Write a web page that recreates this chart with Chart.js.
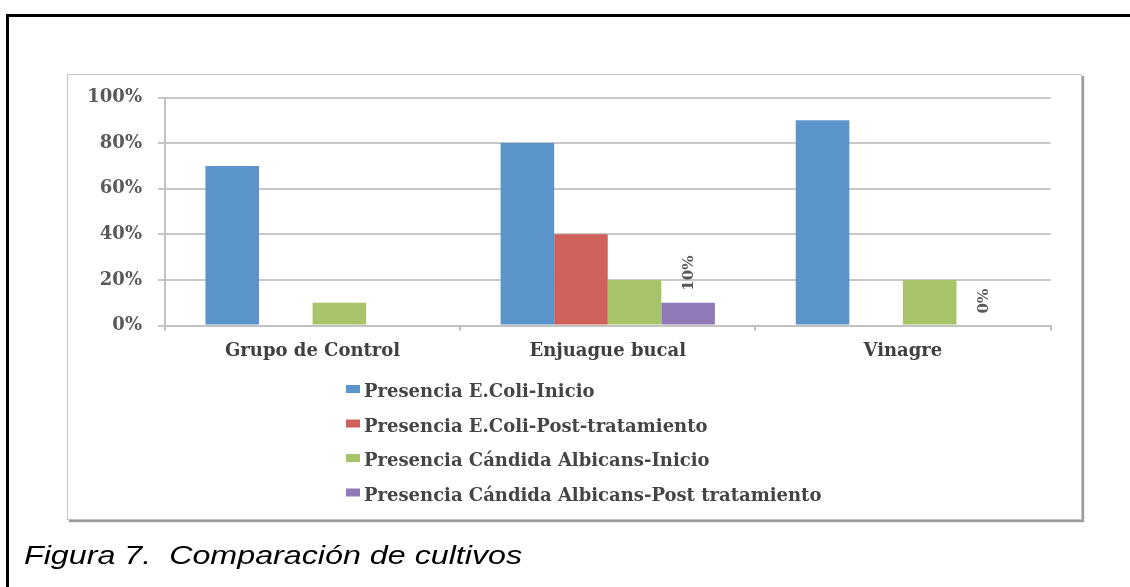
<!DOCTYPE html>
<html>
<head>
<meta charset="utf-8">
<script src="https://cdn.jsdelivr.net/npm/chart.js@4.4.1/dist/chart.umd.min.js"></script>
<style>
  html, body { margin: 0; padding: 0; background: #fff; }
  body { width: 1130px; height: 587px; position: relative; overflow: hidden; }
  #frame { position: absolute; left: 6px; top: 14px; width: 1300px; height: 800px;
           border-left: 3px solid #000; border-top: 3px solid #000; }
  #box { position: absolute; left: 67px; top: 74px; width: 1013px; height: 444px;
         border: 1px solid #c4c4c4; box-shadow: 2px 2px 1px #9c9c9c; background: #fff; }
  #chart { position: absolute; left: 0; top: 0; }
  #caption { position: absolute; left: 24px; top: 540px; margin: 0;
             font: italic 26px "Liberation Sans", Arial, sans-serif; color: #000;
             transform-origin: 0 0; transform: scaleX(1.24); white-space: pre; }
</style>
</head>
<body>
<div id="frame"></div>
<div id="box"></div>
<canvas id="chart" width="1130" height="587"></canvas>
<p id="caption">Figura 7.  Comparación de cultivos</p>
<script>
// Categories and series (percent of samples)
const categories = ['Grupo de Control', 'Enjuague bucal', 'Vinagre'];
const seriesNames = [
  'Presencia E.Coli-Inicio',
  'Presencia E.Coli-Post-tratamiento',
  'Presencia Cándida Albicans-Inicio',
  'Presencia Cándida Albicans-Post tratamiento'
];
const ecoliInicio   = [70, 80, 90];
const ecoliPost     = [null, 40, 0];
const candidaInicio = [10, 20, 20];
const candidaPost   = [null, 10, 0];
const yTickValues   = [0, 20, 40, 60, 80, 100];

const seriesColors = ['#5b94cb', '#d0605a', '#a8c46a', '#8f79b7'];
const labelledSeries = 3; // value labels are shown on the last series only

const serif = 'DejaVu Serif';

// Legend drawn as a single column under the axis
const columnLegend = {
  id: 'columnLegend',
  afterDraw(chart) {
    const ctx = chart.ctx;
    ctx.save();
    ctx.font = 'bold 18px "' + serif + '"';
    ctx.textBaseline = 'alphabetic';
    ctx.textAlign = 'left';
    chart.data.datasets.forEach((ds, i) => {
      const base = 397 + i * 34.5;
      ctx.fillStyle = ds.backgroundColor;
      ctx.fillRect(346, base - 12, 14, 8);
      ctx.fillStyle = '#454545';
      ctx.fillText(ds.label, 364, base);
    });
    ctx.restore();
  }
};

// Rotated value labels above the bars of one series
const valueLabels = {
  id: 'valueLabels',
  afterDatasetsDraw(chart) {
    const ctx = chart.ctx;
    const meta = chart.getDatasetMeta(labelledSeries);
    const values = chart.data.datasets[labelledSeries].data;
    ctx.save();
    ctx.font = 'bold 15px "' + serif + '"';
    ctx.fillStyle = '#595959';
    ctx.textAlign = 'left';
    ctx.textBaseline = 'middle';
    meta.data.forEach((bar, i) => {
      const v = values[i];
      if (v === null || v === undefined) return;
      ctx.save();
      ctx.translate(bar.x + 1, bar.y - 12);
      ctx.rotate(-Math.PI / 2);
      ctx.fillText(v + '%', 0, 0);
      ctx.restore();
    });
    ctx.restore();
  }
};

const seriesData = [ecoliInicio, ecoliPost, candidaInicio, candidaPost];

new Chart(document.getElementById('chart'), {
  type: 'bar',
  data: {
    labels: categories,
    datasets: seriesNames.map((name, i) => ({
      label: name,
      data: seriesData[i],
      backgroundColor: seriesColors[i],
      borderWidth: 0,
      categoryPercentage: 0.726,
      barPercentage: 1.0
    }))
  },
  options: {
    responsive: false,
    animation: false,
    devicePixelRatio: 1,
    layout: { padding: { left: 67, top: 97.5, right: 79.5, bottom: 216.5 } },
    plugins: {
      legend: { display: false },
      tooltip: { enabled: false },
      title: { display: false }
    },
    scales: {
      x: {
        grid: { drawOnChartArea: false, drawTicks: true, tickLength: 5,
                color: '#bdbdbd', lineWidth: 2, offset: true },
        border: { color: '#c2c2c2', width: 2 },
        ticks: { font: { family: serif, size: 18, weight: 'bold' }, color: '#404040', padding: 10 },
        afterFit(scale) { scale.height = 45; }
      },
      y: {
        min: 0, max: 100,
        afterBuildTicks(scale) { scale.ticks = yTickValues.map(v => ({ value: v })); },
        ticks: { callback: v => v + '%', font: { family: serif, size: 18, weight: 'bold' },
                 color: '#595959', padding: 16 },
        grid: { color: '#c8c8c8', lineWidth: 2, tickLength: 7 },
        border: { color: '#c2c2c2', width: 2 },
        afterFit(scale) { scale.width = 98; }
      }
    }
  },
  plugins: [valueLabels, columnLegend]
});
</script>
</body>
</html>
